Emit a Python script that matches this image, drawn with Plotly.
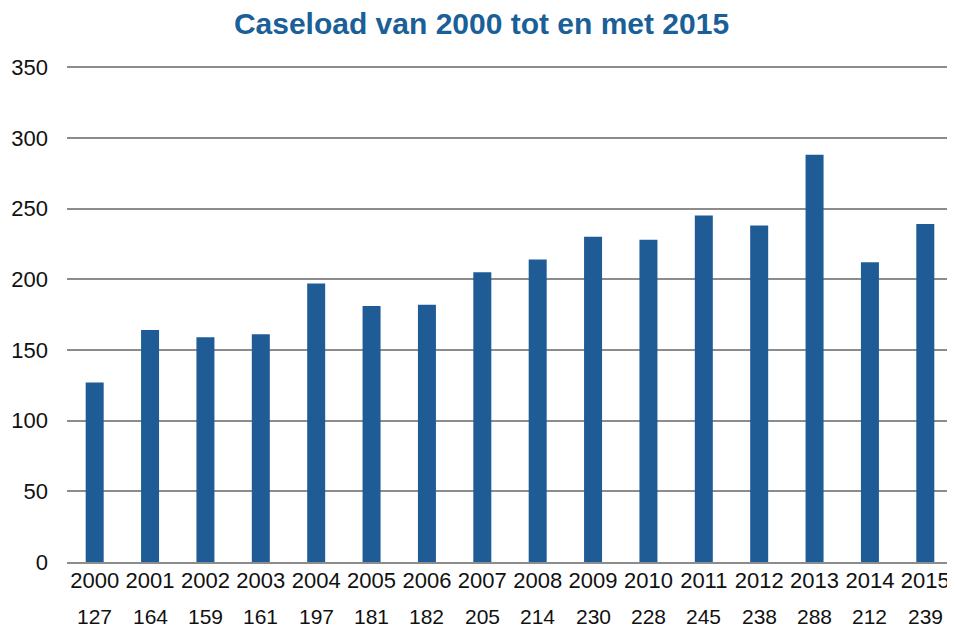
import plotly.graph_objects as go

years = ["2000", "2001", "2002", "2003", "2004", "2005", "2006", "2007",
         "2008", "2009", "2010", "2011", "2012", "2013", "2014", "2015"]
caseload = [127, 164, 159, 161, 197, 181, 182, 205, 214, 230, 228, 245, 238, 288, 212, 239]
y_ticks = [0, 50, 100, 150, 200, 250, 300, 350]

FONT = "Liberation Sans, Arial, sans-serif"
BLUE = "#1f5c96"

fig = go.Figure()
fig.add_trace(go.Bar(x=years, y=caseload, marker=dict(color=BLUE, line=dict(width=0)),
                     hoverinfo="x+y"))

for i, v in enumerate(caseload):
    fig.add_annotation(x=i, xref="x", y=0, yref="y", yshift=-54, text=str(v),
                       showarrow=False, borderpad=0,
                       font=dict(family=FONT, size=21, color="#111"))

fig.update_layout(
    width=947, height=620,
    margin=dict(l=59, r=2, t=58, b=66, autoexpand=False),
    paper_bgcolor="white", plot_bgcolor="white",
    bargap=0.675,
    showlegend=False,
    title=dict(text="<b>Caseload van 2000 tot en met 2015</b>", x=0.5, xanchor="center",
               y=0.975, yanchor="middle",
               font=dict(family=FONT, size=30, color="#1a5f98")),
    xaxis=dict(type="category", tickfont=dict(family=FONT, size=22, color="#111"),
               showgrid=False, showline=True, linecolor="#8c8c8c", linewidth=2,
               ticks="", tickangle=0, automargin=False, ticklabelstandoff=-2),
    yaxis=dict(range=[0, 350.8], tickvals=y_ticks, tickfont=dict(family=FONT, size=22, color="#111"),
               showgrid=True, gridcolor="#8c8c8c", gridwidth=2, zeroline=False,
               ticks="", ticklabelstandoff=18, automargin=False),
)

fig.write_html("out.html")
